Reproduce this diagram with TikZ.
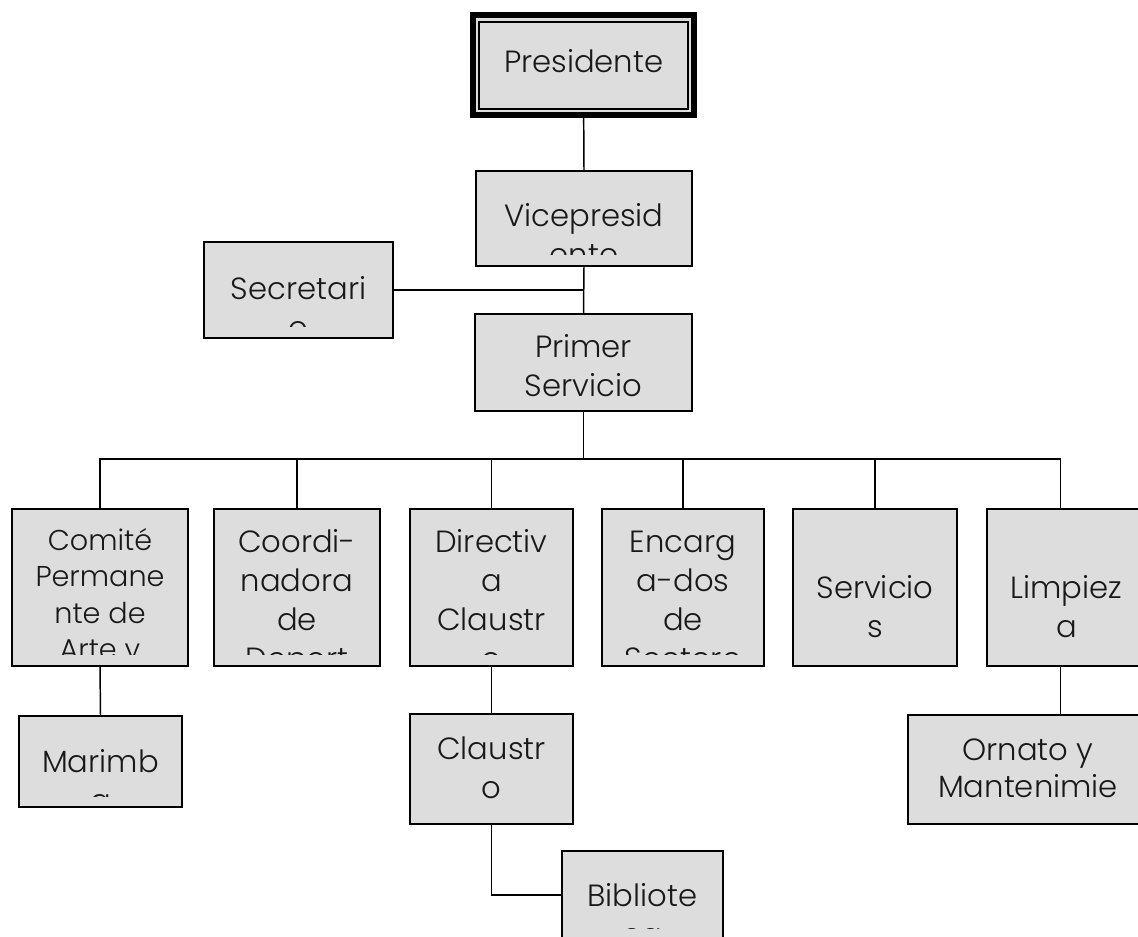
\documentclass[tikz,border=0pt]{standalone}
\usepackage{fontspec}
\setmainfont{Poppins}[UprightFont={* Light}]

\definecolor{boxgray}{RGB}{221,221,221}

% text of a box, cut off at the lower margin of the box
\newcommand{\boxtext}[4][]{%
  \begin{scope}
    \clip ([yshift=8.25pt]#2.south west) rectangle (#2.north east);
    \node[boxlabel, #1, anchor=north] (#2-text) at ([yshift=-#3*0.75pt+22pt]#2.north) {\rule{0pt}{22pt}#4};
  \end{scope}}

\begin{document}
\begin{tikzpicture}[x=0.75pt, y=-0.75pt, line width=1.1pt,
  orgbox/.style={rectangle, draw=black, line width=1.5pt, fill=boxgray,
    anchor=north west, inner sep=0, outer sep=0},
  boxlabel/.style={align=center, inner sep=0, outer sep=0, text=black!90,
    font=\fontsize{23}{29.25}\selectfont},
  smalllabel/.style={font=\fontsize{21.5}{27.4}\selectfont},
  tightlabel/.style={font=\fontsize{23}{27.75}\selectfont}]
  \useasboundingbox (0,0) rectangle (1138,937);
  \clip (0,0) rectangle (1138,937);

  % top of the chart
  \node[orgbox, line width=4.5pt,
    minimum width=166pt,
    minimum height=74.8pt] (pres) at (473,15.3) {};
  \draw[line width=1.5pt] ([shift={(4.7pt,4.7pt)}]pres.south west) rectangle ([shift={(-4.7pt,-4.7pt)}]pres.north east);
  \node[orgbox, minimum width=162pt, minimum height=71.25pt] (vice) at (476,171) {};
  \node[orgbox, minimum width=141.75pt, minimum height=72pt] (secr) at (204,242) {};
  \node[orgbox, minimum width=162.75pt, minimum height=72.75pt] (prim) at (475,314) {};

  % second row
  \node[orgbox, minimum width=132pt, minimum height=117.4pt] (comi) at (12,509) {};
  \node[orgbox, minimum width=124.5pt, minimum height=117.4pt] (coor) at (214,509) {};
  \node[orgbox, minimum width=122.25pt, minimum height=117.4pt] (dire) at (410,509) {};
  \node[orgbox, minimum width=121.5pt, minimum height=117.4pt] (enca) at (602,509) {};
  \node[orgbox, minimum width=123pt, minimum height=117.4pt] (serv) at (793,509) {};
  \node[orgbox, minimum width=119.25pt, minimum height=117.4pt] (limp) at (987,509) {};

  % lower boxes
  \node[orgbox, minimum width=122.25pt, minimum height=68.25pt] (mari) at (19,716) {};
  \node[orgbox, minimum width=122.25pt, minimum height=82.5pt] (clau) at (410,714) {};
  \node[orgbox, minimum width=120.75pt, minimum height=66pt] (bibl) at (562,851) {};
  \node[orgbox, minimum width=180pt, minimum height=81.75pt] (orna) at (908,715) {};

  % connectors
  \draw (pres.south) -- (vice.north);
  \draw (vice.south) -- (prim.north);
  \draw (secr.east) -- (secr.east -| vice.south);
  \coordinate (bus) at ([yshift=-36pt]prim.south);
  \coordinate (limp-top) at ([xshift=-4.5pt]limp.north);
  \coordinate (limp-foot) at ([xshift=-4.5pt]limp.south);
  \draw (prim.south) -- (bus);
  \draw (comi.north) |- (bus) -| (limp-top);
  \foreach \n in {coor, dire, enca, serv}
    \draw (\n.north) -- (\n.north |- bus);
  \draw (comi.south) -- (mari.north);
  \draw (dire.south) -- (clau.north);
  \draw (clau.south) |- (bibl.west);
  \draw (limp-foot) -- (limp-foot |- orna.north);

  % texts
  \boxtext{pres}{57.7}{Presidente}
  \boxtext{vice}{56}{Vicepresid\\ente}
  \boxtext{secr}{58}{Secretari\\o}
  \boxtext{prim}{44}{Primer\\Servicio}
  \boxtext[smalllabel]{comi}{41}{Comité\\Permane\\nte de\\Arte y}
  \boxtext{coor}{43.7}{Coordi-\\nadora\\de\\Deport}
  \boxtext{dire}{43.7}{Directiv\\a\\Claustr\\o}
  \boxtext{enca}{43.7}{Encarg\\a-dos\\de\\Sectore}
  \boxtext{serv}{89}{Servicio\\s}
  \boxtext{limp}{89}{Limpiez\\a}
  \boxtext{mari}{56.7}{Marimb\\a}
  \boxtext{clau}{45}{Claustr\\o}
  \boxtext{bibl}{55}{Bibliote\\ca}
  \boxtext[tightlabel]{orna}{45}{Ornato y\\Mantenimie}
\end{tikzpicture}
\end{document}
